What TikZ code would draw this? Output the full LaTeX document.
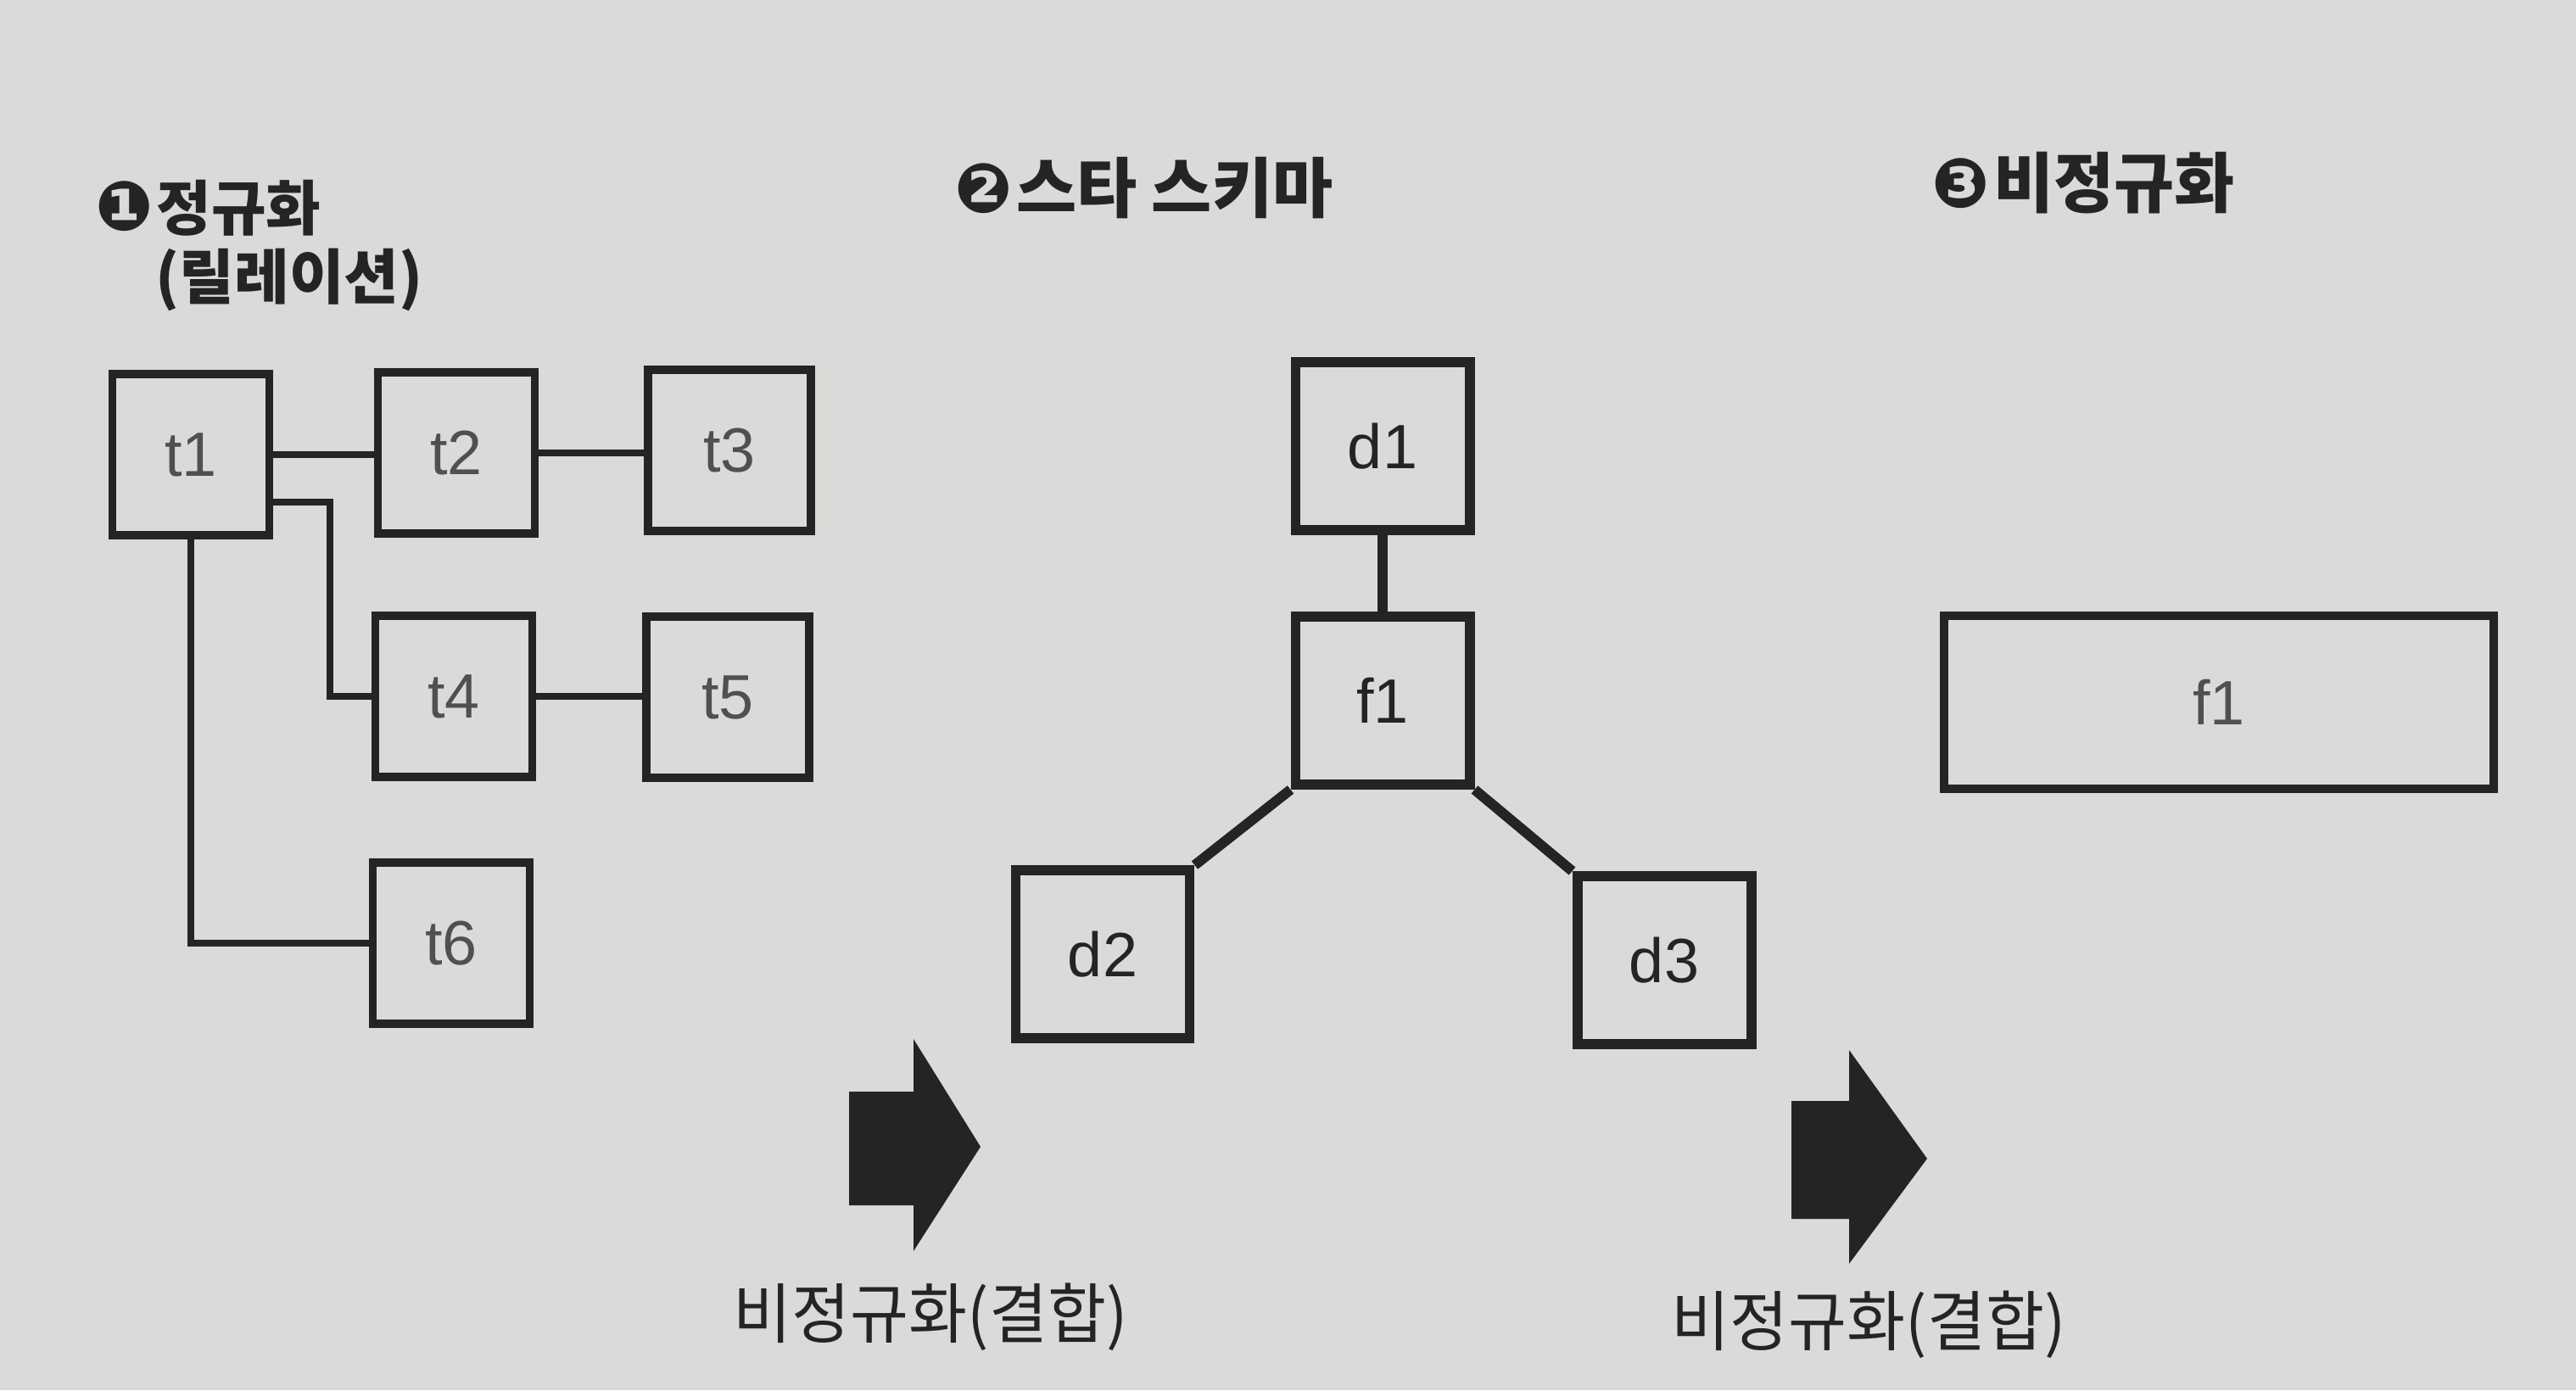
\documentclass[tikz,border=0pt]{standalone}
\usepackage{fontspec}
\setmainfont{Liberation Sans}
\newfontfamily\krfont{Noto Sans CJK KR}
\newfontfamily\symfont{DejaVu Sans}
\definecolor{paper}{RGB}{218,218,216}
\definecolor{ink}{RGB}{36,36,36}
\newcommand\numdot[1]{{\symfont\fontsize{23}{23}\selectfont #1}\kern0.05em}

\begin{document}
\begin{tikzpicture}[
  tab/.style={draw=ink,line width=2.7pt,minimum width=1.85cm,minimum height=1.9cm,inner sep=0pt,text=ink!80,font=\fontsize{21}{24}\selectfont},
  dim/.style={tab,line width=3.4pt,minimum width=2.05cm,minimum height=1.98cm,text=ink},
  link/.style={draw=ink,line width=2.3pt},
  title/.style={anchor=west,inner sep=0pt,text=ink,font=\krfont\bfseries\fontsize{20}{24}\selectfont},
  bigtitle/.style={title,font=\krfont\bfseries\fontsize{22}{26}\selectfont},
  joinlabel/.style={inner sep=0pt,xscale=0.97,text=ink,font=\krfont\fontsize{22}{26}\selectfont},
]
\fill[paper] (0,0) rectangle (30.37,16.39);

% titles
\node[title] (head1) at (1.12,13.94) {\numdot{❶}정규화};
\node[title] (head1b) at (1.83,13.09) {(릴레이션)};
\node[bigtitle] (head2) at (11.25,14.17) {\numdot{❷}스타 스키마};
\node[bigtitle] (head3) at (22.77,14.23) {\numdot{❸}비정규화};

% normalized relations
\node[tab] (t1) at (2.25,11.03) {t1};
\node[tab] (t2) at (5.38,11.05) {t2};
\node[tab,minimum width=1.92cm] (t3) at (8.60,11.08) {t3};
\node[tab] (t4) at (5.35,8.18) {t4};
\node[tab,minimum width=1.92cm] (t5) at (8.58,8.17) {t5};
\node[tab] (t6) at (5.32,5.27) {t6};

\draw[link] (t1.east) -- (t1.east -| t2.west);
\draw[link] (t2.east) -- (t2.east -| t3.west);
\draw[link] (t4.east) -- (t4.east -| t5.west);
\draw[link] ([yshift=-5.6mm]t1.east) -- ++(0.67,0) |- (t4.west);
\draw[link] (t1.south) |- (t6.west);

% star schema
\node[dim] (d1) at (16.30,11.13) {d1};
\node[dim] (f1) at (16.30,8.13) {f1};
\node[dim] (d2) at (13.00,5.14) {d2};
\node[dim] (d3) at (19.62,5.07) {d3};

\draw[link,line width=3.4pt] (d1.south) -- (f1.north);
\draw[link,line width=3.4pt] (f1.south west) -- (d2.north east);
\draw[link,line width=3.4pt] (f1.south east) -- (d3.north west);

% denormalized
\node[tab,line width=2.6pt,minimum width=6.48cm,minimum height=2.04cm] (wide) at (26.16,8.11) {f1};

% arrows
\fill[ink] (10.01,2.18) -- (10.77,2.18) -- (10.77,1.64) -- (11.56,2.87) -- (10.77,4.14) -- (10.77,3.52) -- (10.01,3.52) -- cycle;
\fill[ink] (21.12,2.02) -- (21.80,2.02) -- (21.80,1.49) -- (22.72,2.73) -- (21.80,4.01) -- (21.80,3.41) -- (21.12,3.41) -- cycle;
\node[joinlabel] (join1) at (10.97,0.86) {비정규화(결합)};
\node[joinlabel] (join2) at (22.03,0.77) {비정규화(결합)};
\end{tikzpicture}
\end{document}
